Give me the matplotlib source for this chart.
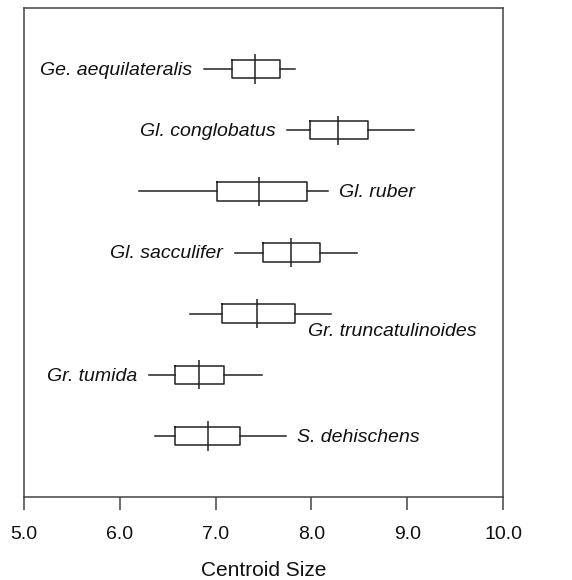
import matplotlib
matplotlib.use("Agg")
import matplotlib.pyplot as plt

species = ["Ge. aequilateralis", "Gl. conglobatus", "Gl. ruber", "Gl. sacculifer",
           "Gr. truncatulinoides", "Gr. tumida", "S. dehischens"]
whislo = [6.88, 7.75, 6.20, 7.20, 6.73, 6.31, 6.37]
q1     = [7.17, 7.99, 7.01, 7.49, 7.07, 6.58, 6.58]
med    = [7.41, 8.28, 7.45, 7.79, 7.43, 6.83, 6.92]
q3     = [7.67, 8.59, 7.95, 8.09, 7.83, 7.09, 7.25]
whishi = [7.83, 9.07, 8.17, 8.48, 8.20, 7.48, 7.73]
label_side = ["left", "left", "right", "left", "below", "left", "right"]
xticks = [5.0, 6.0, 7.0, 8.0, 9.0, 10.0]

plt.rcParams['font.family'] = ['Liberation Sans', 'DejaVu Sans']
fig = plt.figure(figsize=(5.72, 5.80), dpi=100)
ax = fig.add_axes([24/572, 83/580, 479/572, 489/580])

lc = '#222222'
tc = '#111111'
positions = list(range(1, len(species) + 1))
stats = [dict(med=m, q1=a, q3=b, whislo=lo, whishi=hi, fliers=[], label=s)
         for s, lo, a, m, b, hi in zip(species, whislo, q1, med, q3, whishi)]
ax.bxp(stats, positions=positions, orientation='horizontal', widths=0.3,
       showcaps=False, showfliers=False,
       boxprops=dict(color=lc, linewidth=1.1),
       whiskerprops=dict(color=lc, linewidth=1.1),
       medianprops=dict(visible=False))
ax.vlines(med, [p - 0.24 for p in positions], [p + 0.24 for p in positions],
          color=lc, linewidth=1.1)

for s, p, lo, hi, b, side in zip(species, positions, whislo, whishi, q3, label_side):
    if side == "left":
        ax.annotate(s, (lo, p), xytext=(-8.5, -1), textcoords='offset points',
                    ha='right', va='center', fontsize=14, style='italic', color=tc)
    elif side == "right":
        ax.annotate(s, (hi, p), xytext=(8, -1), textcoords='offset points',
                    ha='left', va='center', fontsize=14, style='italic', color=tc)
    else:
        ax.annotate(s, (b, p), xytext=(9, -13), textcoords='offset points',
                    ha='left', va='center', fontsize=14, style='italic', color=tc)

ax.set_xlim(5.0, 10.0)
ax.set_ylim(8.0, 0.0)
ax.set_xticks(xticks)
ax.set_xticklabels([f"{t:.1f}" for t in xticks], fontsize=14, color=tc)
ax.set_yticks([])
ax.tick_params(axis='x', direction='out', length=9, width=1.1, color='#444444', pad=12)
for sp in ax.spines.values():
    sp.set_color('#444444')
    sp.set_linewidth(1.1)
ax.set_xlabel("Centroid Size", fontsize=15, color=tc, labelpad=12.5)

fig.savefig("out.png", dpi=100)
